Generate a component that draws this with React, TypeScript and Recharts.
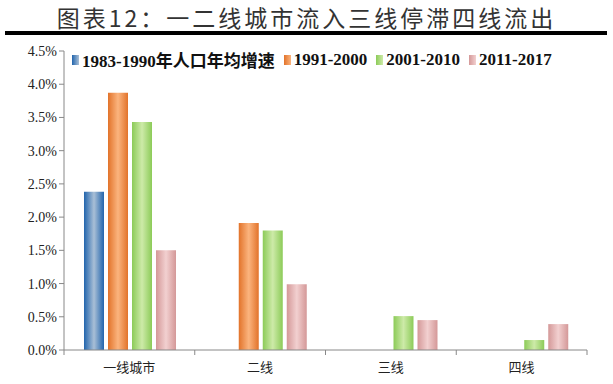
import React from 'react';
import { BarChart, Bar, XAxis, YAxis } from 'recharts';

const categories = ['一线城市', '二线', '三线', '四线'];
const seriesNames = ['1983-1990年人口年均增速', '1991-2000', '2001-2010', '2011-2017'];
const s1983 = [2.38, null, null, null];
const s1991 = [3.87, 1.91, null, null];
const s2001 = [3.43, 1.8, 0.51, 0.15];
const s2011 = [1.5, 0.99, 0.45, 0.39];
const yTicks = [0, 0.5, 1, 1.5, 2, 2.5, 3, 3.5, 4, 4.5];
const title = '图表12：一二线城市流入三线停滞四线流出';

const colors = [
  { id: 'gBlue', edge: '#2265ad', mid: '#a9bfd6', key: 's1983' },
  { id: 'gOrange', edge: '#e2732a', mid: '#fbb47e', key: 's1991' },
  { id: 'gGreen', edge: '#8ccb58', mid: '#cdeaa8', key: 's2001' },
  { id: 'gPink', edge: '#d49898', mid: '#f2d0d0', key: 's2011' },
];

const data = categories.map((c, i) => ({
  name: c,
  s1983: s1983[i],
  s1991: s1991[i],
  s2001: s2001[i],
  s2011: s2011[i],
}));

const SERIF = '"Liberation Serif", "Times New Roman", "Noto Sans CJK SC", serif';
const CJK = '"Noto Sans CJK SC", sans-serif';

const XTick = (props: any) => {
  const { x, y, payload, index } = props;
  const off = payload.offset || 0;
  const last = index === categories.length - 1;
  return (
    <g>
      <line x1={x - off} y1={y - 8} x2={x - off} y2={y - 3} stroke="#888" />
      {last && <line x1={x + off} y1={y - 8} x2={x + off} y2={y - 3} stroke="#888" />}
      <text x={x} y={y + 14} textAnchor="middle" fontSize={13} fontFamily={CJK} fill="#222">
        {payload.value}
      </text>
    </g>
  );
};

const LegendRow = () => (
  <div
    style={{
      position: 'absolute',
      left: 72,
      top: 47,
      display: 'flex',
      alignItems: 'center',
      fontFamily: SERIF,
      fontWeight: 'bold',
      fontSize: 17,
      color: '#111',
      whiteSpace: 'nowrap',
    }}
  >
    {seriesNames.map((n, i) => (
      <div key={n} style={{ display: 'flex', alignItems: 'center', marginRight: 9 }}>
        <div
          style={{
            width: 7,
            height: 10,
            marginRight: 3,
            background: `linear-gradient(to right, ${colors[i].edge}, ${colors[i].mid})`,
          }}
        />
        <span>{n}</span>
      </div>
    ))}
  </div>
);

export default function App() {
  return (
    <div style={{ position: 'absolute', left: 0, top: 0, width: 613, height: 384, background: '#fff' }}>
      <div
        style={{
          position: 'absolute',
          left: 0,
          top: 3,
          width: 613,
          textAlign: 'center',
          fontFamily: CJK,
          fontSize: 23,
          letterSpacing: 3,
          color: '#333',
          lineHeight: '28px',
        }}
      >
        {title}
      </div>
      <div style={{ position: 'absolute', left: 5, top: 31, width: 602, height: 4, background: '#000' }} />
      <div style={{ position: 'absolute', left: 0, top: 0 }}>
        <BarChart
          width={613}
          height={384}
          data={data}
          margin={{ top: 51, right: 26, bottom: 10, left: 8 }}
          barCategoryGap={20}
          barGap={4}
        >
          <defs>
            {colors.map((c) => (
              <linearGradient key={c.id} id={c.id} x1="0" y1="0" x2="1" y2="0">
                <stop offset="0%" stopColor={c.edge} />
                <stop offset="50%" stopColor={c.mid} />
                <stop offset="100%" stopColor={c.edge} />
              </linearGradient>
            ))}
          </defs>
          <XAxis
            dataKey="name"
            height={24}
            stroke="#888"
            tickLine={false}
            tick={<XTick />}
            interval={0}
          />
          <YAxis
            width={56}
            domain={[0, 4.5]}
            ticks={yTicks}
            stroke="#888"
            tickSize={5}
            tickFormatter={(v: number) => `${v.toFixed(1)}%`}
            tick={{ fontSize: 14, fontFamily: SERIF, fill: '#222' }}
          />
          {colors.map((c) => (
            <Bar key={c.key} dataKey={c.key} fill={`url(#${c.id})`} isAnimationActive={false} />
          ))}
        </BarChart>
      </div>
      <LegendRow />
    </div>
  );
}
